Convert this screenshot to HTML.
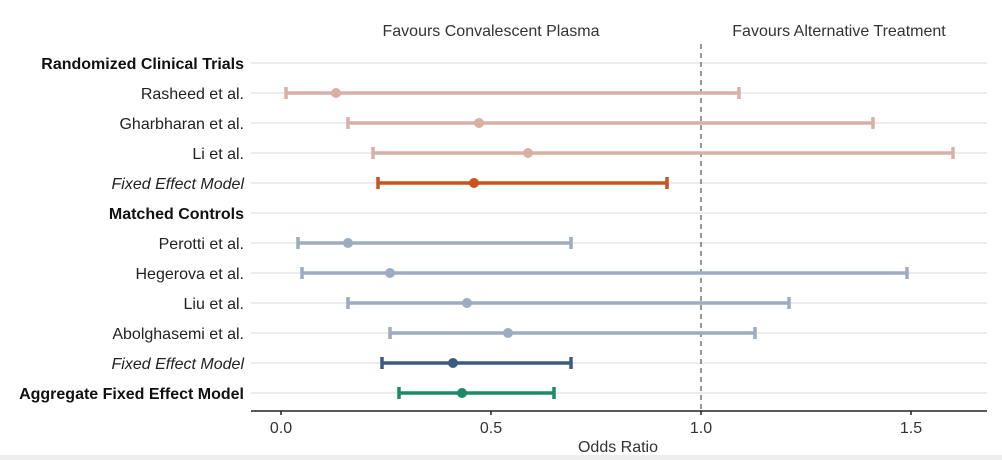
<!DOCTYPE html>
<html><head><meta charset="utf-8"><style>
body{margin:0;background:#fff;}
svg{display:block;font-family:"Liberation Sans",sans-serif;}
</style></head><body>
<svg width="1002" height="460" viewBox="0 0 1002 460">
<rect width="1002" height="460" fill="#fff"/>
<rect x="0" y="455" width="1002" height="5" fill="#eeeeee"/>
<g stroke="#e6e6e6" stroke-width="1.5">
<line x1="251" x2="987" y1="63" y2="63"/><line x1="251" x2="987" y1="93" y2="93"/>
<line x1="251" x2="987" y1="123" y2="123"/><line x1="251" x2="987" y1="153" y2="153"/>
<line x1="251" x2="987" y1="183" y2="183"/><line x1="251" x2="987" y1="213" y2="213"/>
<line x1="251" x2="987" y1="243" y2="243"/><line x1="251" x2="987" y1="273" y2="273"/>
<line x1="251" x2="987" y1="303" y2="303"/><line x1="251" x2="987" y1="333" y2="333"/>
<line x1="251" x2="987" y1="363" y2="363"/><line x1="251" x2="987" y1="393" y2="393"/>
</g>
<line x1="701" x2="701" y1="44" y2="411" stroke="#777" stroke-width="1.5" stroke-dasharray="5,4"/>
<line x1="251" x2="987" y1="411" y2="411" stroke="#222" stroke-width="1.5"/>
<g stroke="#222" stroke-width="1.5"><line x1="281" x2="281" y1="411" y2="415"/><line x1="491" x2="491" y1="411" y2="415"/><line x1="701" x2="701" y1="411" y2="415"/><line x1="911" x2="911" y1="411" y2="415"/></g>
<g font-size="16" fill="#333" text-anchor="middle">
<text x="281" y="433">0.0</text><text x="491" y="433">0.5</text><text x="701" y="433">1.0</text><text x="911" y="433">1.5</text>
<text x="618" y="452">Odds Ratio</text>
<text x="491" y="36">Favours Convalescent Plasma</text>
<text x="839" y="36">Favours Alternative Treatment</text>
</g>
<g font-size="16" fill="#222" text-anchor="end">
<text x="244" y="69" font-weight="bold" fill="#111">Randomized Clinical Trials</text>
<text x="244" y="99">Rasheed et al.</text>
<text x="244" y="129">Gharbharan et al.</text>
<text x="244" y="159">Li et al.</text>
<text x="244" y="189" font-style="italic">Fixed Effect Model</text>
<text x="244" y="219" font-weight="bold" fill="#111">Matched Controls</text>
<text x="244" y="249">Perotti et al.</text>
<text x="244" y="279">Hegerova et al.</text>
<text x="244" y="309">Liu et al.</text>
<text x="244" y="339">Abolghasemi et al.</text>
<text x="244" y="369" font-style="italic">Fixed Effect Model</text>
<text x="244" y="399" font-weight="bold" fill="#111">Aggregate Fixed Effect Model</text>
</g>
<g stroke-width="3.5">
<g stroke="#d9b0a6" fill="#d9b0a6">
<path d="M286 93H739M286 87v12M739 87v12" fill="none"/><circle cx="336" cy="93" r="5" stroke="none"/>
<path d="M348 123H873M348 117v12M873 117v12" fill="none"/><circle cx="479" cy="123" r="5" stroke="none"/>
<path d="M373 153H953M373 147v12M953 147v12" fill="none"/><circle cx="528" cy="153" r="5" stroke="none"/>
</g>
<g stroke="#c8541f" fill="#c8541f"><path d="M378 183H667M378 177v12M667 177v12" fill="none"/><circle cx="474" cy="183" r="5" stroke="none"/></g>
<g stroke="#9dacc2" fill="#9dacc2">
<path d="M298 243H571M298 237v12M571 237v12" fill="none"/><circle cx="348" cy="243" r="5" stroke="none"/>
<path d="M302 273H907M302 267v12M907 267v12" fill="none"/><circle cx="390" cy="273" r="5" stroke="none"/>
<path d="M348 303H789M348 297v12M789 297v12" fill="none"/><circle cx="467" cy="303" r="5" stroke="none"/>
<path d="M390 333H755M390 327v12M755 327v12" fill="none"/><circle cx="508" cy="333" r="5" stroke="none"/>
</g>
<g stroke="#3d5a80" fill="#3d5a80"><path d="M382 363H571M382 357v12M571 357v12" fill="none"/><circle cx="453" cy="363" r="5" stroke="none"/></g>
<g stroke="#1a8a6a" fill="#1a8a6a"><path d="M399 393H554M399 387v12M554 387v12" fill="none"/><circle cx="462" cy="393" r="5" stroke="none"/></g>
</g>
</svg>
</body></html>
